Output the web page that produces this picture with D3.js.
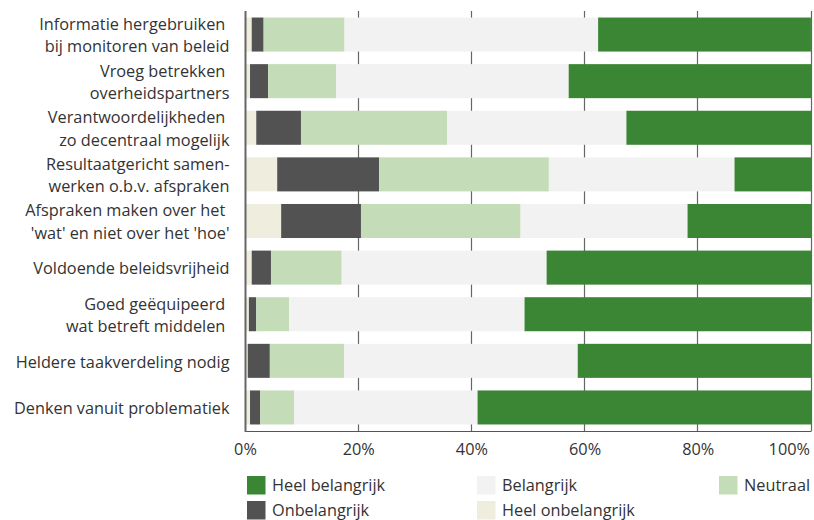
<!DOCTYPE html>
<html>
<head>
<meta charset="utf-8">
<script src="https://cdn.jsdelivr.net/npm/d3@7"></script>
<style>
  html, body { margin: 0; padding: 0; background: #fff; }
  svg { display: block; }
  text { font-family: "Open Sans", "Noto Sans", sans-serif; fill: #333; }
</style>
</head>
<body>
<svg id="chart" width="814" height="520"></svg>
<script>
// Survey statements (label lines separated by \n)
const categories = [
  "Informatie hergebruiken \nbij monitoren van beleid",
  "Vroeg betrekken \noverheidspartners",
  "Verantwoordelijkheden \nzo decentraal mogelijk",
  "Resultaatgericht samen-\nwerken o.b.v. afspraken",
  "Afspraken maken over het \n'wat' en niet over het 'hoe'",
  "Voldoende beleidsvrijheid",
  "Goed geëquipeerd \nwat betreft middelen ",
  "Heldere taakverdeling nodig",
  "Denken vanuit problematiek"
];

// Share of answers per statement (%)
const heelOnbelangrijk = [1.1, 0.8, 1.9, 5.6, 6.3, 1.1, 0.6, 0.4, 0.8];
const onbelangrijk     = [2.1, 3.2, 7.9, 18.0, 14.1, 3.4, 1.3, 3.9, 1.8];
const neutraal         = [14.3, 12.0, 25.8, 30.0, 28.2, 12.5, 5.8, 13.1, 6.0];
const belangrijk       = [44.8, 41.1, 31.7, 32.8, 29.5, 36.2, 41.6, 41.3, 32.4];
const heelBelangrijk   = [37.6, 42.9, 32.7, 13.6, 21.9, 46.8, 50.7, 41.3, 59.0];

const tickValues = [0, 20, 40, 60, 80, 100];
const tickLabels = ["0%", "20%", "40%", "60%", "80%", "100%"];

const seriesKeys = ["Heel onbelangrijk", "Onbelangrijk", "Neutraal", "Belangrijk", "Heel belangrijk"];
const seriesColors = ["#efeddd", "#525252", "#c5dcb9", "#f2f2f2", "#3b8634"];
const legendOrder = ["Heel belangrijk", "Belangrijk", "Neutraal", "Onbelangrijk", "Heel onbelangrijk"];

const rows = categories.map((c, i) => ({
  category: c,
  "Heel onbelangrijk": heelOnbelangrijk[i],
  "Onbelangrijk": onbelangrijk[i],
  "Neutraal": neutraal[i],
  "Belangrijk": belangrijk[i],
  "Heel belangrijk": heelBelangrijk[i]
}));

const fontSize = 16.3;
const svg = d3.select("#chart");
const plot = { left: 245.5, right: 811.5, top: 11, bottom: 431 };

const x = d3.scaleLinear().domain([0, 100]).range([plot.left, plot.right]);
const y = d3.scaleBand().domain(categories).range([plot.top, plot.bottom])
  .paddingInner(0.27).paddingOuter(0.14);
const color = d3.scaleOrdinal().domain(seriesKeys).range(seriesColors);

// Vertical gridlines
svg.append("g")
  .selectAll("line")
  .data(tickValues.slice(1))
  .join("line")
  .attr("x1", d => Math.round(x(d)) - 0.5)
  .attr("x2", d => Math.round(x(d)) - 0.5)
  .attr("y1", plot.top)
  .attr("y2", plot.bottom)
  .attr("stroke", "#666")
  .attr("stroke-width", 1.2);

// Stacked bars
const stacked = d3.stack().keys(seriesKeys)(rows);
svg.append("g")
  .selectAll("g")
  .data(stacked)
  .join("g")
  .attr("fill", s => color(s.key))
  .selectAll("rect")
  .data(s => s)
  .join("rect")
  .attr("x", d => x(d[0]))
  .attr("width", d => x(d[1]) - x(d[0]))
  .attr("y", d => y(d.data.category))
  .attr("height", y.bandwidth());

// Bottom axis line and left axis line
svg.append("line")
  .attr("x1", plot.left).attr("x2", plot.right)
  .attr("y1", plot.bottom + 0.5).attr("y2", plot.bottom + 0.5)
  .attr("stroke", "#555").attr("stroke-width", 1);
svg.append("line")
  .attr("x1", plot.left).attr("x2", plot.left)
  .attr("y1", plot.top).attr("y2", plot.bottom + 1)
  .attr("stroke", "#666").attr("stroke-width", 2);

// X tick labels
svg.append("g")
  .selectAll("text")
  .data(tickValues)
  .join("text")
  .attr("x", (d, i) => i === tickValues.length - 1 ? x(d) - 1.5 : x(d))
  .attr("y", 449)
  .attr("dy", "0.35em")
  .attr("text-anchor", (d, i) => i === tickValues.length - 1 ? "end" : "middle")
  .attr("font-size", fontSize)
  .text((d, i) => tickLabels[i]);

// Category labels
const lineGap = 22.5;
svg.append("g")
  .selectAll("text")
  .data(categories)
  .join("text")
  .attr("text-anchor", "end")
  .attr("font-size", fontSize)
  .attr("xml:space", "preserve")
  .style("white-space", "pre")
  .each(function (c) {
    const lines = c.split("\n");
    const cy = y(c) + y.bandwidth() / 2 + 1;
    const t = d3.select(this);
    lines.forEach((ln, k) => {
      t.append("tspan")
        .attr("x", 229.5)
        .attr("y", cy + (k - (lines.length - 1) / 2) * lineGap)
        .attr("dy", "0.35em")
        .text(ln);
    });
  });

// Legend
const legendCols = [247, 477, 719];
const legendRows = [476, 501];
const legend = svg.append("g")
  .selectAll("g")
  .data(legendOrder)
  .join("g")
  .attr("transform", (d, i) => `translate(${legendCols[i % 3]},${legendRows[Math.floor(i / 3)]})`);
legend.append("rect")
  .attr("width", 18.5).attr("height", 18.5)
  .attr("fill", d => color(d));
legend.append("text")
  .attr("x", 25).attr("y", 9.5)
  .attr("dy", "0.35em")
  .attr("font-size", fontSize)
  .text(d => d);
</script>
</body>
</html>
